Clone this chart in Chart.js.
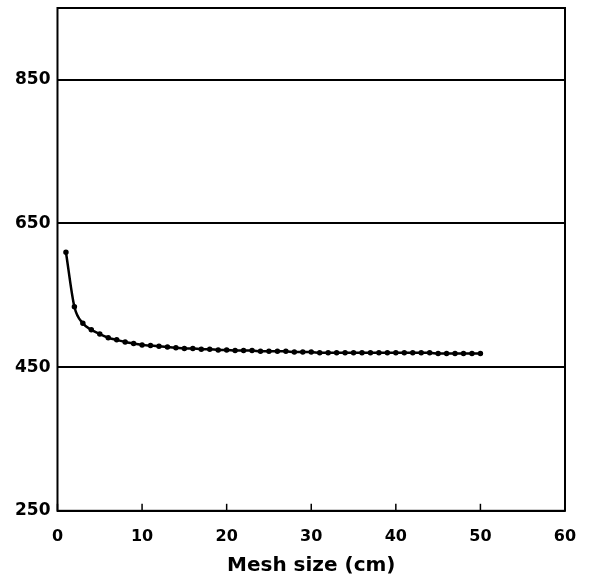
<!DOCTYPE html>
<html>
<head>
<meta charset="utf-8">
<script src="https://cdn.jsdelivr.net/npm/chart.js@4/dist/chart.umd.min.js"></script>
<style>
  html, body { margin: 0; padding: 0; background: #fff; }
  #wrap { width: 591px; height: 585px; }
</style>
</head>
<body>
<div id="wrap"><canvas id="meshChart"></canvas></div>
<script>
// mesh size (cm) and the value
var meshSize = [1, 2, 3, 4, 5, 6, 7, 8, 9, 10,
    11, 12, 13, 14, 15, 16, 17, 18, 19, 20,
    21, 22, 23, 24, 25, 26, 27, 28, 29, 30,
    31, 32, 33, 34, 35, 36, 37, 38, 39, 40,
    41, 42, 43, 44, 45, 46, 47, 48, 49, 50];
var values = [610, 534, 511, 502, 496, 491, 488, 485, 483, 481,
    480, 479, 478, 477, 476, 476, 475, 475, 474, 474,
    473, 473, 473, 472, 472, 472, 472, 471, 471, 471,
    470, 470, 470, 470, 470, 470, 470, 470, 470, 470,
    470, 470, 470, 470, 469, 469, 469, 469, 469, 469];
var yTicks = [250, 450, 650, 850];
var xTicks = [0, 10, 20, 30, 40, 50, 60];

var points = meshSize.map(function (m, i) {
    return {x: m, y: values[i]};
});

// frame round the plot and short inward ticks on the x axis
var framePlugin = {
    id: 'frame',
    afterDraw: function (chart) {
        var ctx = chart.ctx;
        var a = chart.chartArea;
        var xs = chart.scales.x;
        ctx.save();
        ctx.strokeStyle = '#000';
        ctx.lineWidth = 2;
        ctx.strokeRect(a.left, a.top, a.right - a.left, a.bottom - a.top);
        ctx.lineWidth = 1.5;
        xTicks.forEach(function (t) {
            var px = xs.getPixelForValue(t);
            ctx.beginPath();
            ctx.moveTo(px, a.bottom);
            ctx.lineTo(px, a.bottom - 7);
            ctx.stroke();
        });
        ctx.restore();
    }
};

var ctx = document.getElementById('meshChart').getContext('2d');
new Chart(ctx, {
    type: 'line',
    data: {
        datasets: [{
            data: points,
            borderColor: '#000',
            backgroundColor: '#000',
            borderWidth: 2.5,
            pointRadius: 1.5,
            pointHoverRadius: 1.5,
            cubicInterpolationMode: 'monotone',
            fill: false
        }]
    },
    options: {
        responsive: true,
        maintainAspectRatio: false,
        animation: false,
        layout: {padding: {left: 8, right: 26, top: 8, bottom: 7}},
        plugins: {
            legend: {display: false},
            tooltip: {enabled: false}
        },
        scales: {
            x: {
                type: 'linear',
                min: 0,
                max: 60,
                afterBuildTicks: function (scale) {
                    scale.ticks = xTicks.map(function (v) { return {value: v}; });
                },
                grid: {display: false},
                border: {display: false},
                ticks: {
                    color: '#000',
                    padding: 8,
                    maxRotation: 0,
                    font: {family: 'DejaVu Sans', weight: 'bold', size: 16}
                },
                title: {
                    display: true,
                    text: 'Mesh size (cm)',
                    color: '#000',
                    padding: {top: 0, bottom: 0},
                    font: {family: 'DejaVu Sans', weight: 'bold', size: 20}
                }
            },
            y: {
                min: 250,
                max: 950,
                afterBuildTicks: function (scale) {
                    scale.ticks = yTicks.map(function (v) { return {value: v}; });
                },
                afterFit: function (scale) {
                    // the top label sits well below the top edge, no room needed
                    scale.paddingTop = 0;
                },
                grid: {color: '#000', lineWidth: 2, drawTicks: false},
                border: {display: false},
                ticks: {
                    color: '#000',
                    padding: 7,
                    font: {family: 'DejaVu Sans', weight: 'bold', size: 17}
                }
            }
        }
    },
    plugins: [framePlugin]
});
</script>
</body>
</html>
